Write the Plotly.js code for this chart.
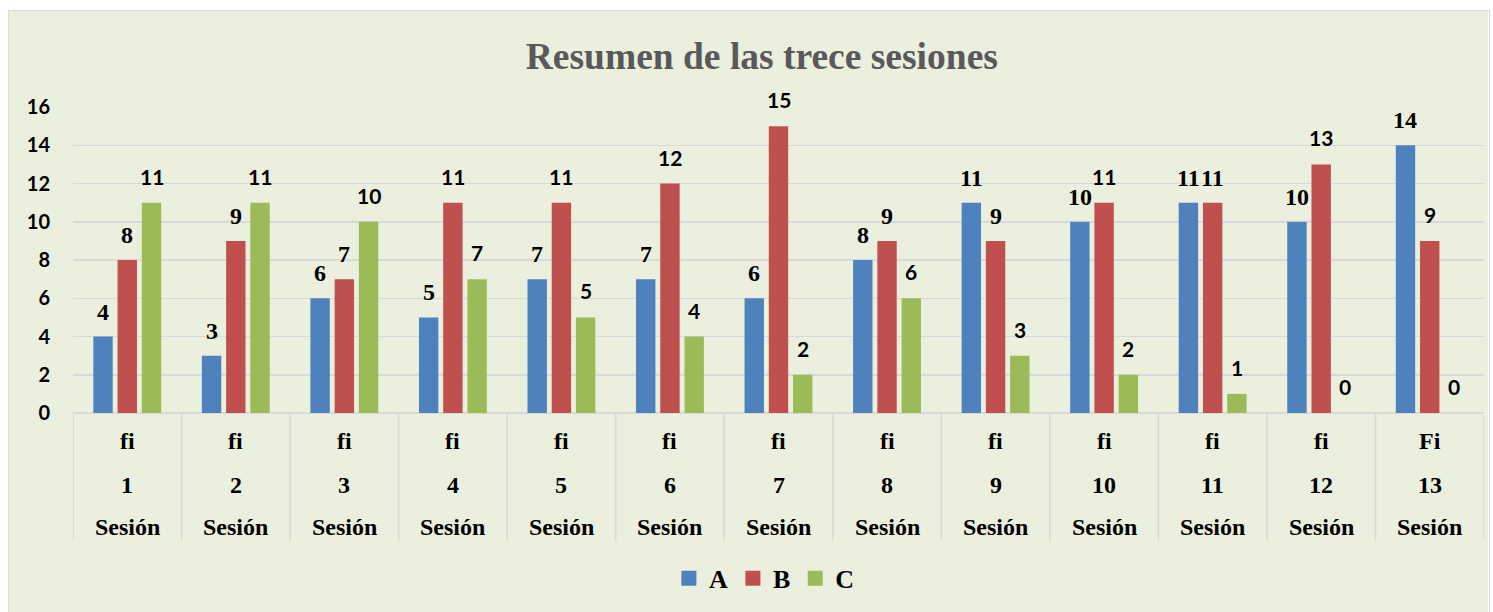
<!DOCTYPE html>
<html>
<head>
<meta charset="utf-8">
<script src="https://cdn.plot.ly/plotly-3.0.1.min.js"></script>
<style>
  html, body { margin: 0; padding: 0; background: #ffffff; width: 1493px; height: 612px; overflow: hidden; }
  #chart { position: absolute; left: 8px; top: 10px; width: 1482px; height: 604px; border: 1.5px solid #d9d9d9; box-sizing: border-box; overflow: hidden; }
</style>
</head>
<body>
<div id="chart"></div>
<script>
// ---- data ----
const sessions = ["1","2","3","4","5","6","7","8","9","10","11","12","13"];
const rowFi = ["fi","fi","fi","fi","fi","fi","fi","fi","fi","fi","fi","fi","Fi"];
const rowSesion = ["Sesión","Sesión","Sesión","Sesión","Sesión","Sesión","Sesión","Sesión","Sesión","Sesión","Sesión","Sesión","Sesión"];
const seriesNames = ["A","B","C"];
const valuesA = [4, 3, 6, 5, 7, 7, 6, 8, 11, 10, 11, 10, 14];
const valuesB = [8, 9, 7, 11, 11, 12, 15, 9, 9, 11, 11, 13, 9];
const valuesC = [11, 11, 10, 7, 5, 4, 2, 6, 3, 2, 1, 0, 0];
const yTicks = [0, 2, 4, 6, 8, 10, 12, 14, 16];

// ---- styles ----
const colors = ["#4F81BD", "#C0504D", "#9BBB59"];
const SERIF = "Liberation Serif";
const SANS = "Lato";
// label font per series (reference mixes serif and sans labels)
const labelFontBSerif = [true, true, true, false, false, false, false, true, true, false, true, false, false];

const allValues = [valuesA, valuesB, valuesC];
const traces = allValues.map((vals, i) => ({
  type: "bar",
  name: seriesNames[i],
  x: sessions,
  y: vals,
  marker: { color: colors[i], line: { width: 0 } },
  hoverinfo: "skip"
}));

const shiftX = [-24.3, 0, 24.3];
const annotations = [];
allValues.forEach((vals, i) => {
  vals.forEach((v, j) => {
    const serif = i === 0 || (i === 1 && labelFontBSerif[j]);
    annotations.push({
      x: j, y: v, xref: "x", yref: "y",
      text: "<b>" + String(v) + "</b>", showarrow: false,
      xshift: shiftX[i], yshift: serif ? 10 : 12,
      yanchor: "bottom", xanchor: "center",
      font: { family: SERIF === SERIF && serif ? SERIF : SANS, size: serif ? 24 : 21, color: "#000000" }
    });
  });
});

// multi-row category labels
const rows = [[rowFi, -0.0915], [sessions, -0.235], [rowSesion, -0.3725]];
rows.forEach(([labels, yp]) => {
  labels.forEach((t, j) => {
    annotations.push({
      x: j, y: yp, xref: "x", yref: "paper",
      text: "<b>" + t + "</b>", showarrow: false, yanchor: "middle", xanchor: "center",
      font: { family: SERIF, size: 24, color: "#000000" }
    });
  });
});

// separator lines between categories
const shapes = [];
for (let k = 0; k <= sessions.length; k++) {
  shapes.push({
    type: "line", xref: "x", yref: "paper",
    x0: k - 0.5, x1: k - 0.5, y0: 0, y1: -0.418,
    line: { color: "#D9D9D9", width: 1.5 }
  });
}

const layout = {
  width: 1479, height: 601,
  margin: { l: 64, r: 4, t: 96, b: 199 },
  paper_bgcolor: "#EBEFDE",
  plot_bgcolor: "#EBEFDE",
  title: {
    text: "<b>Resumen de las trece sesiones</b>",
    x: 0.509, xanchor: "center", y: 0.925, yanchor: "middle",
    font: { family: SERIF, size: 37.5, color: "#595959" }
  },
  barmode: "group",
  bargap: 0.33,
  bargroupgap: 0.2,
  showlegend: true,
  legend: {
    orientation: "h", x: 0.49, xanchor: "center", y: -0.54, yanchor: "middle",
    font: { family: SERIF, size: 26, color: "#000000", weight: "bold" },
    bgcolor: "rgba(0,0,0,0)", itemclick: false, tracegroupgap: 0,
    itemwidth: 30
  },
  xaxis: {
    type: "category",
    showticklabels: false,
    showgrid: false, zeroline: false, showline: false, ticks: "",
    range: [-0.5, sessions.length - 0.5],
    fixedrange: true
  },
  yaxis: {
    range: [0, 16],
    tickvals: yTicks,
    ticktext: yTicks.map(String),
    showgrid: true, gridcolor: "#D9D9D9", gridwidth: 1.5,
    zeroline: true, zerolinecolor: "#D9D9D9", zerolinewidth: 1.5,
    showline: false, ticks: "",
    ticklabelstandoff: 22,
    tickfont: { family: SANS, size: 20, color: "#000000", weight: "bold" },
    fixedrange: true
  },
  annotations: annotations,
  shapes: shapes
};

Plotly.newPlot("chart", traces, layout, { displayModeBar: false, staticPlot: true }).then(gd => {
  // enlarge legend square markers to match the reference
  gd.querySelectorAll(".legend .legendpoints path").forEach(p => {
    const t = p.getAttribute("transform") || "";
    p.setAttribute("transform", t + " scale(1.25)");
  });
});
</script>
</body>
</html>
